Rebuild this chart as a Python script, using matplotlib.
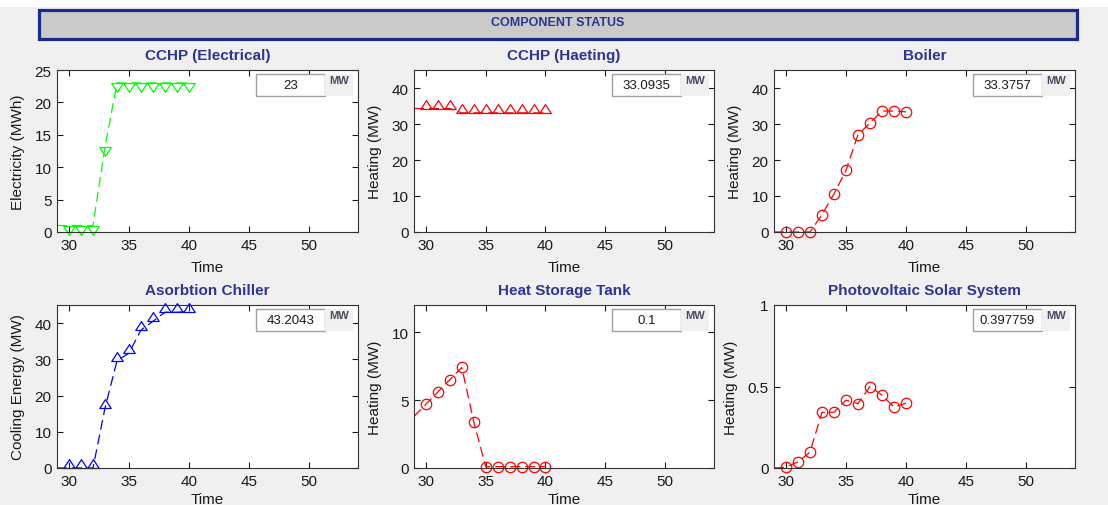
import matplotlib
matplotlib.use("Agg")
import matplotlib.pyplot as plt
from matplotlib.patches import Rectangle
from matplotlib.path import Path

plt.rcParams['font.family'] = ['Liberation Sans', 'DejaVu Sans']

# data (time step 29 only shows up as the line entering from the left edge)
time = [29, 30, 31, 32, 33, 34, 35, 36, 37, 38, 39, 40]
cchp_elec = [1, 1, 1, 1, 13.1, 23, 23, 23, 23, 23, 23, 23]
cchp_heat = [34.3, 34.3, 34.3, 34.3, 33.1, 33.1, 33.1, 33.1, 33.1, 33.1, 33.1, 33.0935]
boiler = [0, 0, 0, 0, 4.8, 10.6, 17.1, 27.0, 30.3, 33.6, 33.6, 33.3757]
chiller = [0, 0, 0, 0, 16.5, 29.6, 31.7, 38.1, 40.5, 43.0, 43.0, 43.2043]
tank = [3.8, 4.7, 5.6, 6.5, 7.4, 3.4, 0.1, 0.1, 0.1, 0.1, 0.1, 0.1]
pv = [0, 0.005, 0.038, 0.097, 0.342, 0.342, 0.416, 0.395, 0.5, 0.447, 0.374, 0.397759]

titles = ["CCHP (Electrical)", "CCHP (Haeting)", "Boiler",
          "Asorbtion Chiller", "Heat Storage Tank", "Photovoltaic Solar System"]
ylabels = ["Electricity (MWh)", "Heating (MW)", "Heating (MW)",
           "Cooling Energy (MW)", "Heating (MW)", "Heating (MW)"]
series = [cchp_elec, cchp_heat, boiler, chiller, tank, pv]
ylims = [25, 45, 45, 45, 12, 1]
yticks = [[0, 5, 10, 15, 20, 25], [0, 10, 20, 30, 40], [0, 10, 20, 30, 40],
          [0, 10, 20, 30, 40], [0, 5, 10], [0, 0.5, 1]]

# matlab style triangles: data point sits on the flat side
tri_up = Path([(-1, 0), (1, 0), (0, 1.55), (-1, 0)], closed=True)
tri_down = Path([(-1, 0), (1, 0), (0, -1.55), (-1, 0)], closed=True)
styles = [("#00ff00", tri_down, 12.8), ("red", tri_up, 12.8), ("red", "o", 7.5),
          ("blue", tri_up, 12.8), ("red", "o", 7.5), ("red", "o", 7.5)]

W, H = 1108, 506
fig = plt.figure(figsize=(W / 100, H / 100), dpi=100)
fig.patch.set_facecolor("#f0f0f0")

# white strip on top + title bar
fig.add_artist(Rectangle((0, 1 - 8 / H), 1, 8 / H, transform=fig.transFigure,
                         facecolor="white", edgecolor="none"))
fig.add_artist(Rectangle((39 / W, 1 - 40 / H), 1038 / W, 29 / H, transform=fig.transFigure,
                         facecolor="#cacaca", edgecolor="#1a2a8c", linewidth=2.3))
fig.text(558 / W, 1 - 22.5 / H, "COMPONENT STATUS", ha="center", va="center",
         fontsize=9, fontweight="bold", color="#2a3590")

lefts = [57, 414, 774]
rights = [358, 714, 1075]
tops = [71, 306]
bottoms = [233, 469]

for i in range(6):
    r, c = divmod(i, 3)
    l, rt, t, b = lefts[c], rights[c], tops[r], bottoms[r]
    ax = fig.add_axes([l / W, 1 - b / H, (rt - l) / W, (b - t) / H])
    vals = series[i]
    color, marker, ms = styles[i]
    ax.plot(time, vals, color=color, lw=0.9, linestyle=(0, (8, 4)))
    ax.plot(time[1:], vals[1:], linestyle="none", marker=marker, markersize=ms,
            markerfacecolor="none", markeredgecolor=color, markeredgewidth=0.9,
            clip_on=False)
    ax.set_xlim(29, 54.1)
    ax.set_ylim(0, ylims[i])
    ax.set_xticks([30, 35, 40, 45, 50])
    ax.set_yticks(yticks[i])
    if i == 5:
        ax.set_yticklabels(["0", "0.5", "1"])
    ax.tick_params(direction="in", top=True, right=True, length=4, width=0.8,
                   labelsize=11, colors="#1a1a1a", pad=4)
    for sp in ax.spines.values():
        sp.set_color("#333333")
        sp.set_linewidth(0.8)
    ax.set_title(titles[i], fontsize=11, fontweight="bold", color="#2e3592", pad=8)
    ax.set_ylabel(ylabels[i], fontsize=11, color="#1a1a1a", labelpad=7)
    # bottom row label is cut by the window edge, as in the original screenshot
    ax.set_xlabel("Time", fontsize=11, color="#1a1a1a", labelpad=6 if r == 0 else 3)

    # value readout box + unit label
    bx = rt - 102
    fig.add_artist(Rectangle((bx / W, 1 - (t + 26) / H), 69 / W, 22 / H,
                             transform=fig.transFigure, facecolor="white",
                             edgecolor="#a0a0a0", linewidth=1, zorder=5))
    fig.add_artist(Rectangle(((bx + 69) / W, 1 - (t + 26) / H), 28 / W, 22 / H,
                             transform=fig.transFigure, facecolor="#f0f0f0",
                             edgecolor="none", zorder=5))
    fig.text((bx + 34.5) / W, 1 - (t + 15) / H, f"{vals[-1]:g}", ha="center",
             va="center", fontsize=9.5, color="#1a1a1a", zorder=6)
    fig.text((bx + 83) / W, 1 - (t + 10) / H, "MW", ha="center", va="center",
             fontsize=8, fontweight="bold", color="#4a4a60", zorder=6)

fig.savefig("out.png", dpi=100)
